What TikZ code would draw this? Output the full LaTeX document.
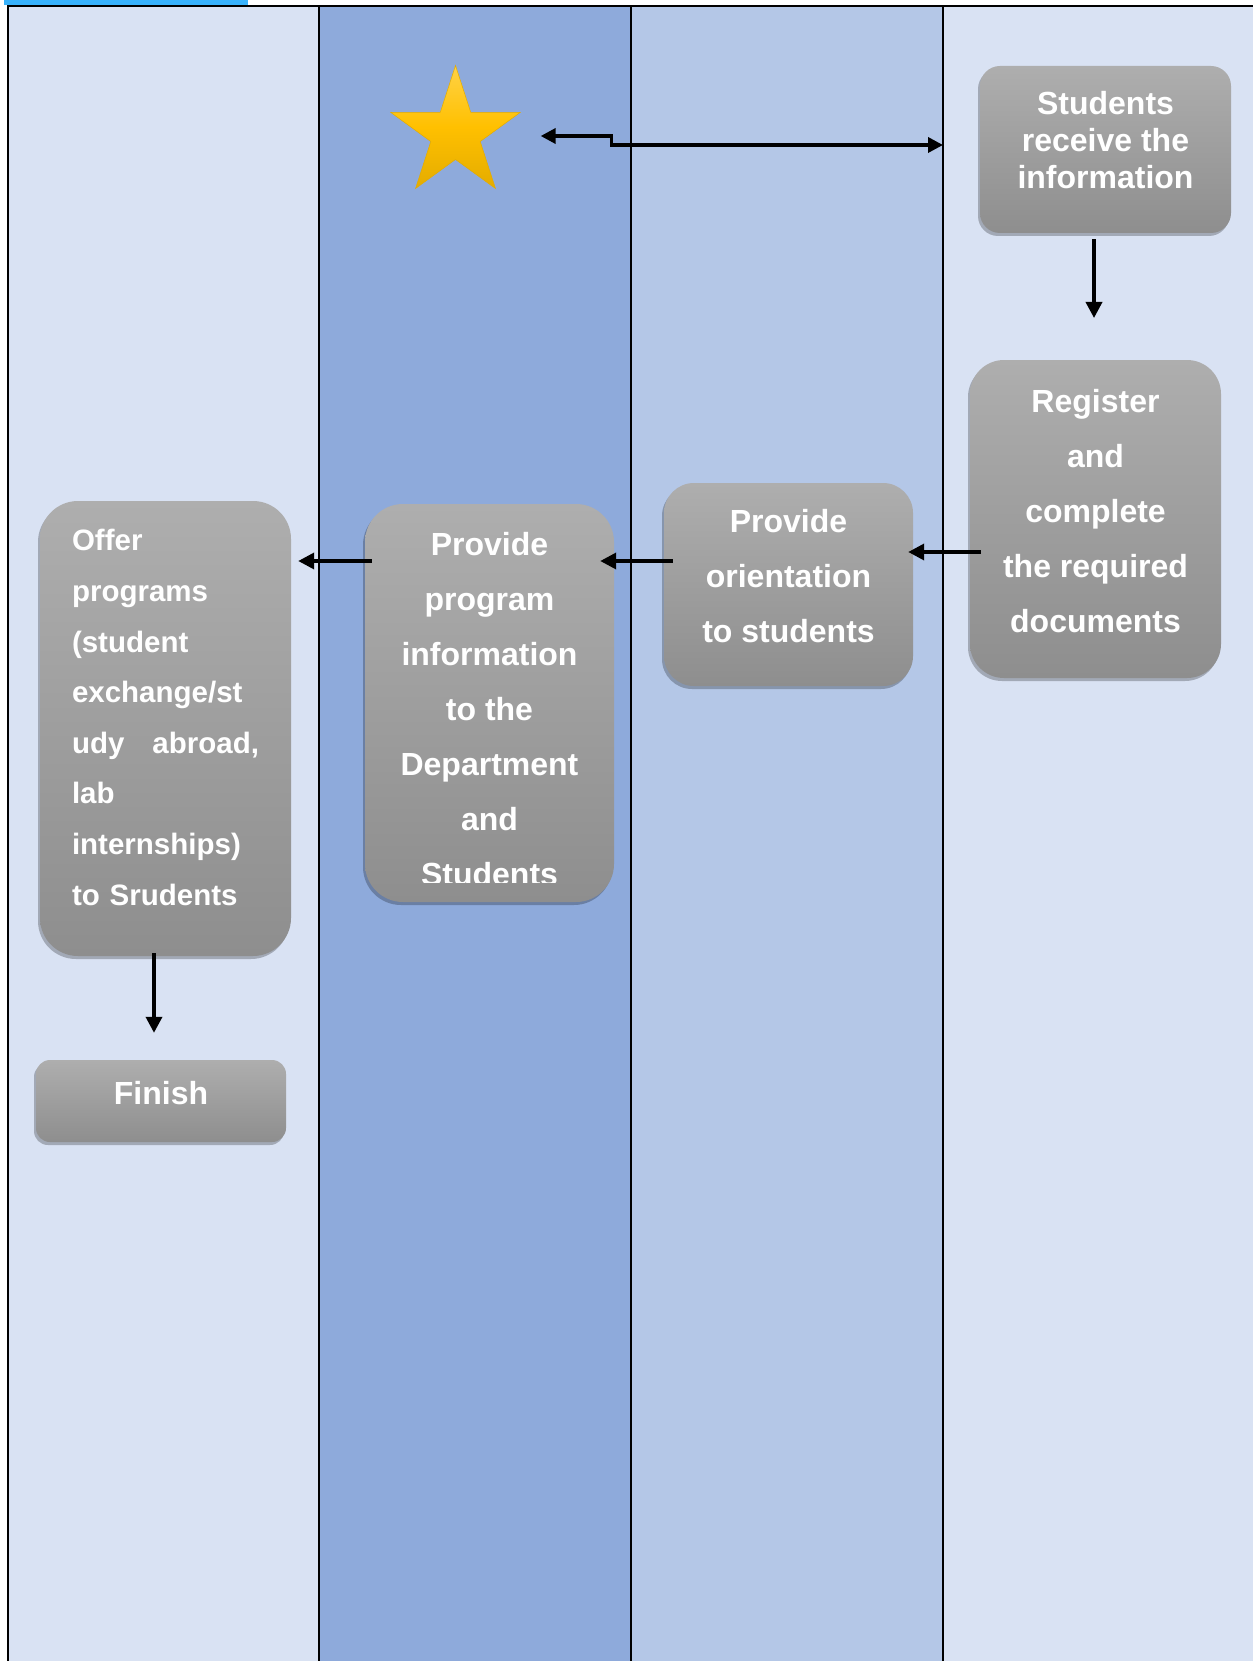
\documentclass[tikz,border=0pt]{standalone}
\usepackage{fontspec}
\setmainfont{Liberation Sans}
\usetikzlibrary{shapes.geometric,arrows.meta,shadows}

\definecolor{laneLight}{RGB}{217,226,243}
\definecolor{laneDark}{RGB}{142,170,219}
\definecolor{laneMid}{RGB}{180,199,231}
\definecolor{tabBlue}{RGB}{56,178,252}
\definecolor{boxTop}{RGB}{174,174,174}
\definecolor{boxBottom}{RGB}{142,142,142}
\definecolor{starTop}{RGB}{255,210,70}
\definecolor{starMid}{RGB}{255,192,0}
\definecolor{starBottom}{RGB}{228,172,0}

\tikzset{
  stepbox/.style={rounded corners=#1, top color=boxTop, bottom color=boxBottom,
    draw=none, inner sep=0pt,
    drop shadow={shadow xshift=-2pt, shadow yshift=-3pt, opacity=0.25, fill=black}},
  steptext/.style={text=white, inner sep=0pt, align=center,
    font=\fontsize{32}{55}\selectfont\bfseries},
  flowarrow/.style={line width=3.5pt, -{Triangle[length=16pt,width=16pt]}},
  lane/.style={line width=2pt}
}

\begin{document}
\begin{tikzpicture}[x=1pt,y=1pt]
    \useasboundingbox (0,0) rectangle (1253,-1661);
    \fill[tabBlue] (4,0) rectangle (248,-5);
    \fill[laneLight] (8,-6) rectangle (319,-1661);
    \fill[laneDark] (319,-6) rectangle (631,-1661);
    \fill[laneMid] (631,-6) rectangle (943,-1661);
    \fill[laneLight] (943,-6) rectangle (1253,-1661);
    \draw[lane] (8,-1661) -- (8,-6) -- (1253,-6);
    \foreach \x in {319,631,943}
        \draw[lane] (\x,-6) -- (\x,-1661);

    \node[star, star points=5, star point ratio=2.618, minimum size=136pt, inner sep=0pt,
        top color=starTop, bottom color=starBottom, middle color=starMid,
        draw=starBottom, line width=0.5pt] (star) at (455.5,-133.5) {};

    \node[stepbox=20pt, minimum width=251pt, minimum height=167pt] (recv) at (1105.5,-149.5) {};
    \node[steptext, font=\fontsize{32}{37}\selectfont\bfseries] at ([yshift=9pt]recv.center)
        {Students\\receive the\\information};

    \node[stepbox=34pt, minimum width=251pt, minimum height=318pt] (reg) at (1095.5,-519) {};
    \node[steptext] at ([yshift=8pt]reg.center)
        {Register\\and\\complete\\the required\\documents};

    \node[stepbox=30pt, minimum width=249pt, minimum height=203pt] (orient) at (788.5,-584.5) {};
    \node[steptext] at ([yshift=8pt]orient.center)
        {Provide\\orientation\\to students};

    \node[stepbox=38pt, minimum width=249pt, minimum height=398pt] (prog) at (489.5,-703) {};
    \begin{scope}
        \clip (365,-504) rectangle (614,-882);
        \node[steptext] at ([yshift=-6pt]prog.center)
            {Provide\\program\\information\\to the\\Department\\and\\Students};
    \end{scope}

    \node[stepbox=38pt, minimum width=251pt, minimum height=455pt] (offer) at (165.5,-728.5) {};
    \node[steptext, align=left, text width=187pt, font=\fontsize{29.5}{50.6}\selectfont\bfseries]
        at ([yshift=11pt]offer.center)
        {Offer\\programs\\(student\\exchange/st\\udy\hfill abroad,\\lab\\internships)\\to Srudents};

    \node[stepbox=14pt, minimum width=250pt, minimum height=82pt] (finish) at (161,-1101) {};
    \node[steptext] at ([yshift=8pt]finish.center) {Finish};

    \coordinate (lanemark) at (943,-145);
    \coordinate (regtop) at (1094,-318);
    \draw[line width=3.5pt, {Triangle[length=15pt,width=15pt]}-{Triangle[length=15pt,width=15pt]}]
        ([xshift=49pt,yshift=-2.5pt]star.east) -- ++(71,0) |- (lanemark);
    \draw[flowarrow] ([xshift=-11.5pt,yshift=-6pt]recv.south) -- (regtop);
    \draw[flowarrow] ([xshift=11pt,yshift=-33pt]reg.west) -- ([xshift=-5pt,yshift=32.5pt]orient.east);
    \draw[flowarrow] ([xshift=9pt,yshift=23.5pt]orient.west) -- ([xshift=-14pt,yshift=142pt]prog.east);
    \draw[flowarrow] ([xshift=7pt,yshift=142pt]prog.west) -- ([xshift=7pt,yshift=167.5pt]offer.east);
    \draw[flowarrow] ([xshift=-11.5pt,yshift=3pt]offer.south) -- ([xshift=-7pt,yshift=27pt]finish.north);
\end{tikzpicture}
\end{document}
